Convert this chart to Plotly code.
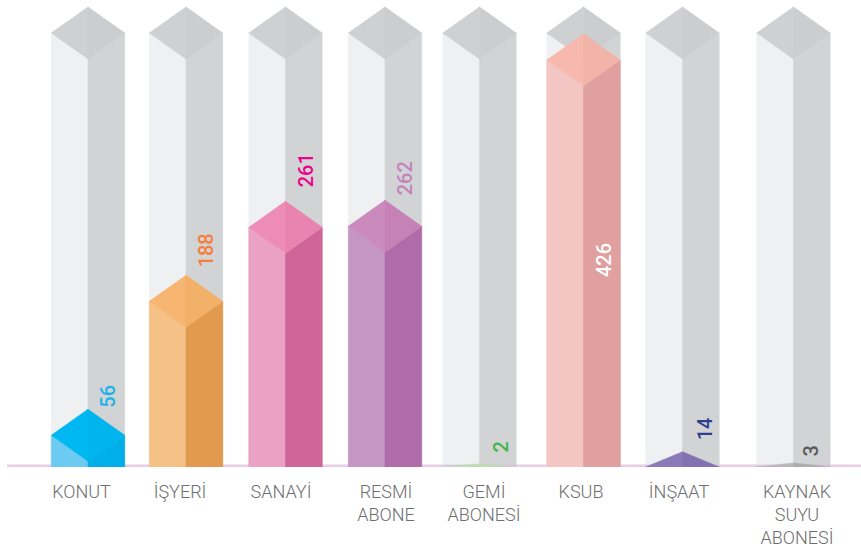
import plotly.graph_objects as go

# --- data ---
categories = ["KONUT", "İŞYERİ", "SANAYİ", "RESMİ<br>ABONE", "GEMİ<br>ABONESİ", "KSUB", "İNŞAAT", "KAYNAK<br>SUYU<br>ABONESİ"]
values = [56, 188, 261, 262, 2, 426, 14, 3]
track_value = 452.7

# --- layout of the slots (pixel-based x axis) ---
bar_centers = [88, 186, 285.5, 385, 479.5, 583.5, 682.5, 793.5]
label_centers = [81.5, 180, 281, 386, 484, 581, 679, 797]
label_dx = [20, 20, 20.5, 20, 21.5, 20.5, 22.5, 17.5]
label_gap_px = [1, 8, 14, 5, 11, -243, 11, 6]

W, H = 861, 552
BASE_PX = 467
ZERO_PX = 466
PX_PER_UNIT = 1.014
HALF_W = 36.7
DEPTH = 26 / PX_PER_UNIT

# left face, right face, top-left half, top-right half
palette = [
    ("#6dcbf2", "#00aee8", "#00b8f1", "#00b4ee"),
    ("#f6c186", "#e29b4e", "#f6b571", "#f3b069"),
    ("#eaa1c4", "#cf6699", "#ee8cb8", "#e984b1"),
    ("#c497c4", "#b06ca9", "#cb8abd", "#c682b7"),
    ("#c4dcbc", "#c4dcbc", "#bcdcb2", "#bcdcb2"),
    ("#f4c6c3", "#e0a09f", "#f7b9ae", "#f2b3a9"),
    ("#8b7ab8", "#8372b2", "#8b7ab8", "#8372b2"),
    ("#b9b7b9", "#aeacae", "#b9b7b9", "#aeacae"),
]
track_colors = ("#eff0f2", "#d2d3d5", "#cfd0d2", "#cccdcf")
value_colors = ["#1cb3ea", "#f47f3a", "#ec008c", "#c384bb", "#3fb549", "#ffffff", "#2e3f8f", "#58595b"]
text_color = "#6d6e70"
FONT = "Roboto, Arial, sans-serif"

y_min = -(BASE_PX - ZERO_PX) / PX_PER_UNIT
y_max = ZERO_PX / PX_PER_UNIT


def poly(xs, ys, color):
    return go.Scatter(x=xs, y=ys, mode="lines", fill="toself", fillcolor=color,
                      line=dict(width=0.6, color=color), hoverinfo="skip", showlegend=False)


def prism(cx, top, colors):
    """Isometric column whose back apex sits at value `top`; short columns flatten."""
    left, right = cx - HALF_W, cx + HALF_W
    depth = min(DEPTH, top - y_min)
    side = top - depth
    front = top - 2 * depth
    floor = min(0, front) - 60
    c_l, c_r, c_tl, c_tr = colors
    return [
        poly([left, cx, cx, left, left], [side, front, floor, floor, side], c_l),
        poly([cx, right, right, cx, cx], [front, side, floor, floor, front], c_r),
        poly([cx, left, cx, cx], [top, side, front, top], c_tl),
        poly([cx, right, cx, cx], [top, side, front, top], c_tr),
    ]


fig = go.Figure()
for cx in bar_centers:
    for t in prism(cx, track_value, track_colors):
        fig.add_trace(t)

# pale baseline
fig.add_trace(go.Scatter(x=[7, W], y=[y_min, y_min], mode="lines",
                         line=dict(color="rgba(222,190,222,0.75)", width=5),
                         hoverinfo="skip", showlegend=False))

for cx, v, colors in zip(bar_centers, values, palette):
    for t in prism(cx, v, colors):
        fig.add_trace(t)

annotations = []
for cx, dx, gap, v, c in zip(bar_centers, label_dx, label_gap_px, values, value_colors):
    annotations.append(dict(
        x=cx + dx, y=v + gap / PX_PER_UNIT, xref="x", yref="y",
        text=str(v), textangle=-90, showarrow=False,
        xanchor="center", yanchor="bottom",
        font=dict(family=FONT, size=20, color=c, weight=500), borderpad=0, borderwidth=0))

fig.update_layout(
    width=W, height=H,
    margin=dict(l=0, r=0, t=0, b=H - BASE_PX, pad=0, autoexpand=False),
    paper_bgcolor="white", plot_bgcolor="white", showlegend=False,
    annotations=annotations,
    xaxis=dict(range=[0, W], tickmode="array", tickvals=label_centers, ticktext=categories,
               showgrid=False, zeroline=False, showline=False, ticks="outside", ticklen=8,
               tickcolor="rgba(0,0,0,0)", tickangle=0, automargin=False,
               tickfont=dict(family=FONT, size=18, color=text_color, weight=300), fixedrange=True),
    yaxis=dict(range=[y_min, y_max], visible=False, fixedrange=True),
)

fig.write_html("out.html", config=dict(displayModeBar=False),
               post_script="document.body.style.margin='0';")
